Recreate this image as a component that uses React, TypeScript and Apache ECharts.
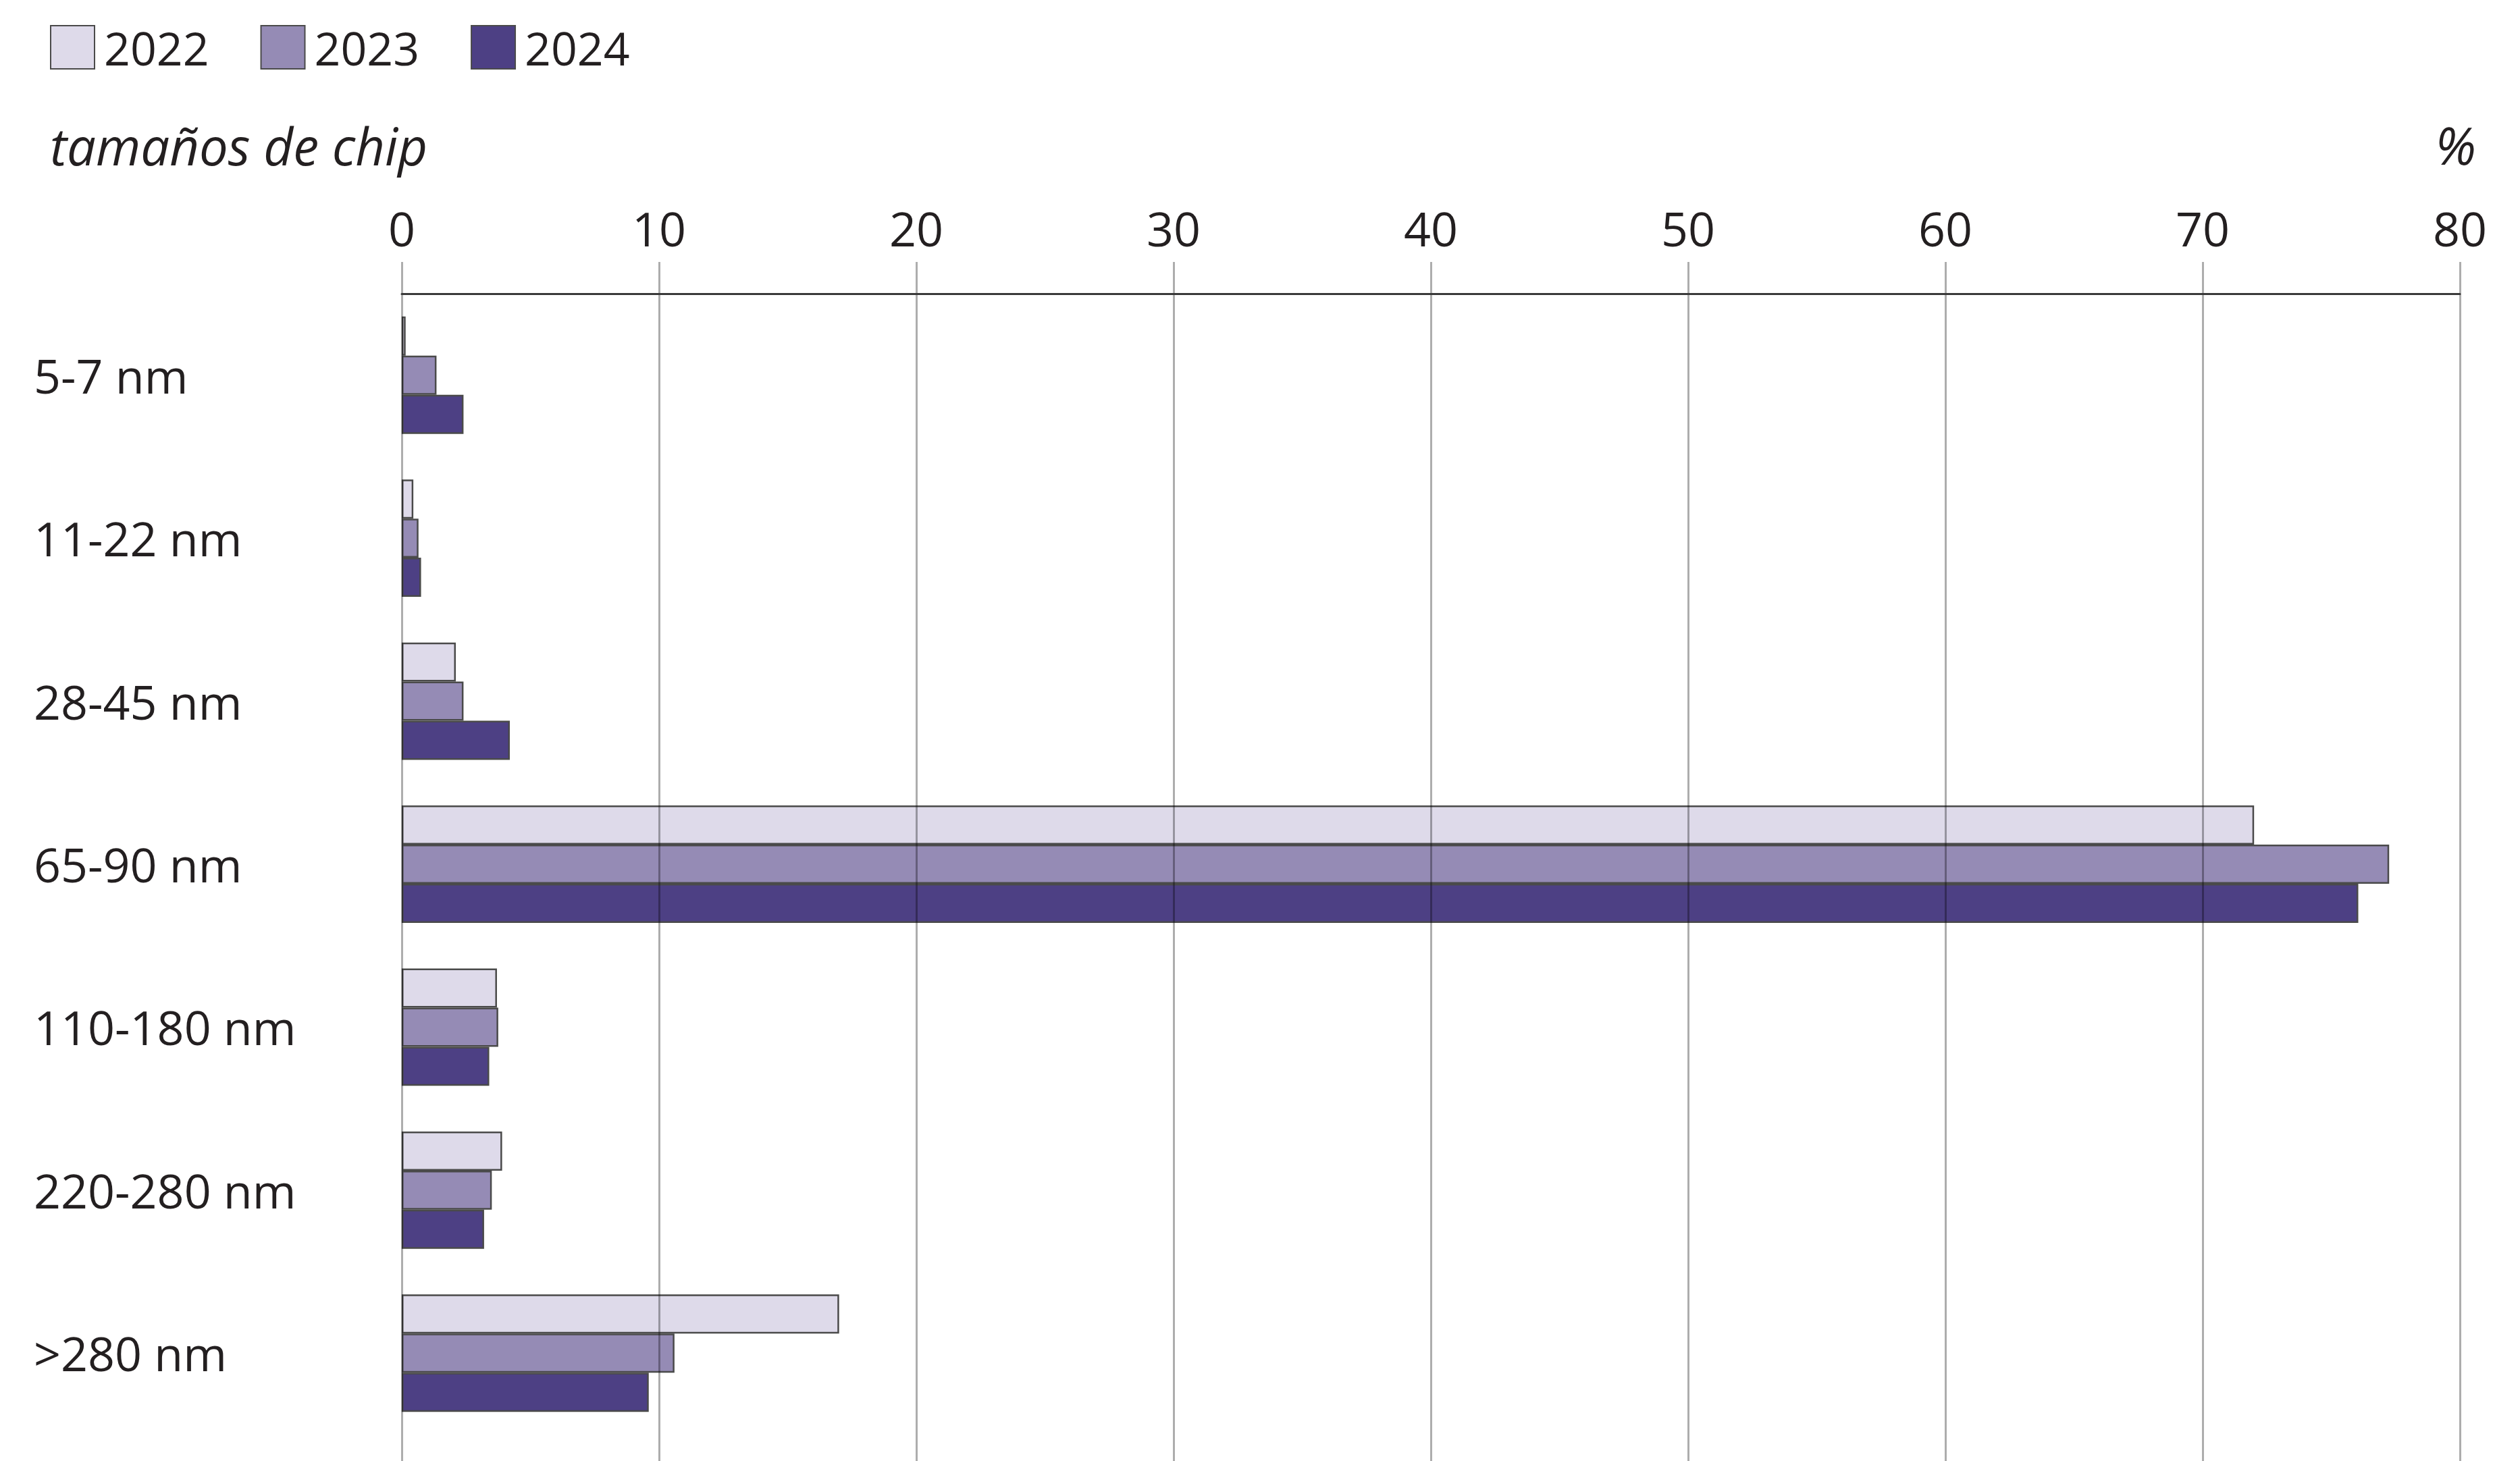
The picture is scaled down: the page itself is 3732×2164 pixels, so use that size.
import React, { useEffect, useRef } from 'react';
import * as echarts from 'echarts';

const categories = ['5-7 nm', '11-22 nm', '28-45 nm', '65-90 nm', '110-180 nm', '220-280 nm', '>280 nm'];
const years = ['2022', '2023', '2024'];
const values2022 = [0.15, 0.45, 2.1, 72.0, 3.7, 3.9, 17.0];
const values2023 = [1.35, 0.65, 2.4, 77.25, 3.75, 3.5, 10.6];
const values2024 = [2.4, 0.75, 4.2, 76.05, 3.4, 3.2, 9.6];
const seriesValues = [values2022, values2023, values2024];
const seriesColors = ['#DEDAEA', '#958BB5', '#4D4084'];
const xMin = 0;
const xMax = 80;
const xInterval = 10;
const yTitle = 'tamaños de chip';
const unitLabel = '%';

const FONT = "'Open Sans', 'Noto Sans', sans-serif";
const TEXT = '#231F20';

export default function App() {
  const ref = useRef<HTMLDivElement>(null);
  useEffect(() => {
    document.body.style.margin = '0';
    if (!ref.current) return;
    const chart = echarts.init(ref.current, undefined, { renderer: 'svg' });
    const option: any = {
      animation: false,
      backgroundColor: '#ffffff',
      legend: {
        data: years,
        left: 69,
        top: 31,
        itemWidth: 65,
        itemHeight: 64,
        itemGap: 76,
        icon: 'rect',
        textStyle: { fontSize: 68, fontFamily: FONT, color: TEXT, padding: [0, 0, 0, 9] },
      },
      grid: [
        { left: 595, right: 89, top: 435, bottom: 39 },
        { left: 595, right: 89, top: 388, bottom: 0 },
      ],
      xAxis: [
        {
          type: 'value',
          gridIndex: 0,
          position: 'top',
          min: xMin,
          max: xMax,
          interval: xInterval,
          z: 12,
          axisLine: { show: true, lineStyle: { color: '#3a3a3a', width: 3 } },
          axisTick: { show: false },
          splitLine: { show: false },
          axisLabel: { fontSize: 70, fontFamily: FONT, color: TEXT, margin: 62 },
        },
        {
          type: 'value',
          gridIndex: 1,
          min: xMin,
          max: xMax,
          interval: xInterval,
          z: 10,
          axisLine: { show: false },
          axisTick: { show: false },
          axisLabel: { show: false },
          splitLine: { show: true, lineStyle: { color: 'rgba(0,0,0,0.32)', width: 3 } },
        },
      ],
      yAxis: [
        {
          type: 'category',
          gridIndex: 0,
          data: categories,
          inverse: true,
          axisLine: { show: false },
          axisTick: { show: false },
          splitLine: { show: false },
          axisLabel: {
            fontSize: 70,
            fontFamily: FONT,
            color: TEXT,
            align: 'left',
            margin: 545,
            padding: [0, 0, 10, 0],
          },
        },
        { type: 'value', gridIndex: 1, show: false, min: 0, max: 1 },
      ],
      graphic: [
        {
          type: 'text',
          left: 74,
          top: 177,
          style: { text: yTitle, fontSize: 76, fontStyle: 'italic', fontFamily: FONT, fill: TEXT },
        },
        {
          type: 'text',
          right: 65,
          top: 176,
          style: { text: unitLabel, fontSize: 76, fontStyle: 'italic', fontFamily: FONT, fill: TEXT },
        },
      ],
      series: years.map((y, i) => ({
        name: y,
        type: 'bar',
        xAxisIndex: 0,
        yAxisIndex: 0,
        data: seriesValues[i],
        barGap: '0%',
        barCategoryGap: '28%',
        itemStyle: { color: seriesColors[i], borderColor: '#4a4a4a', borderWidth: 2.5 },
      })),
    };
    chart.setOption(option);
    return () => chart.dispose();
  }, []);
  return <div ref={ref} style={{ width: 3732, height: 2164 }} />;
}
